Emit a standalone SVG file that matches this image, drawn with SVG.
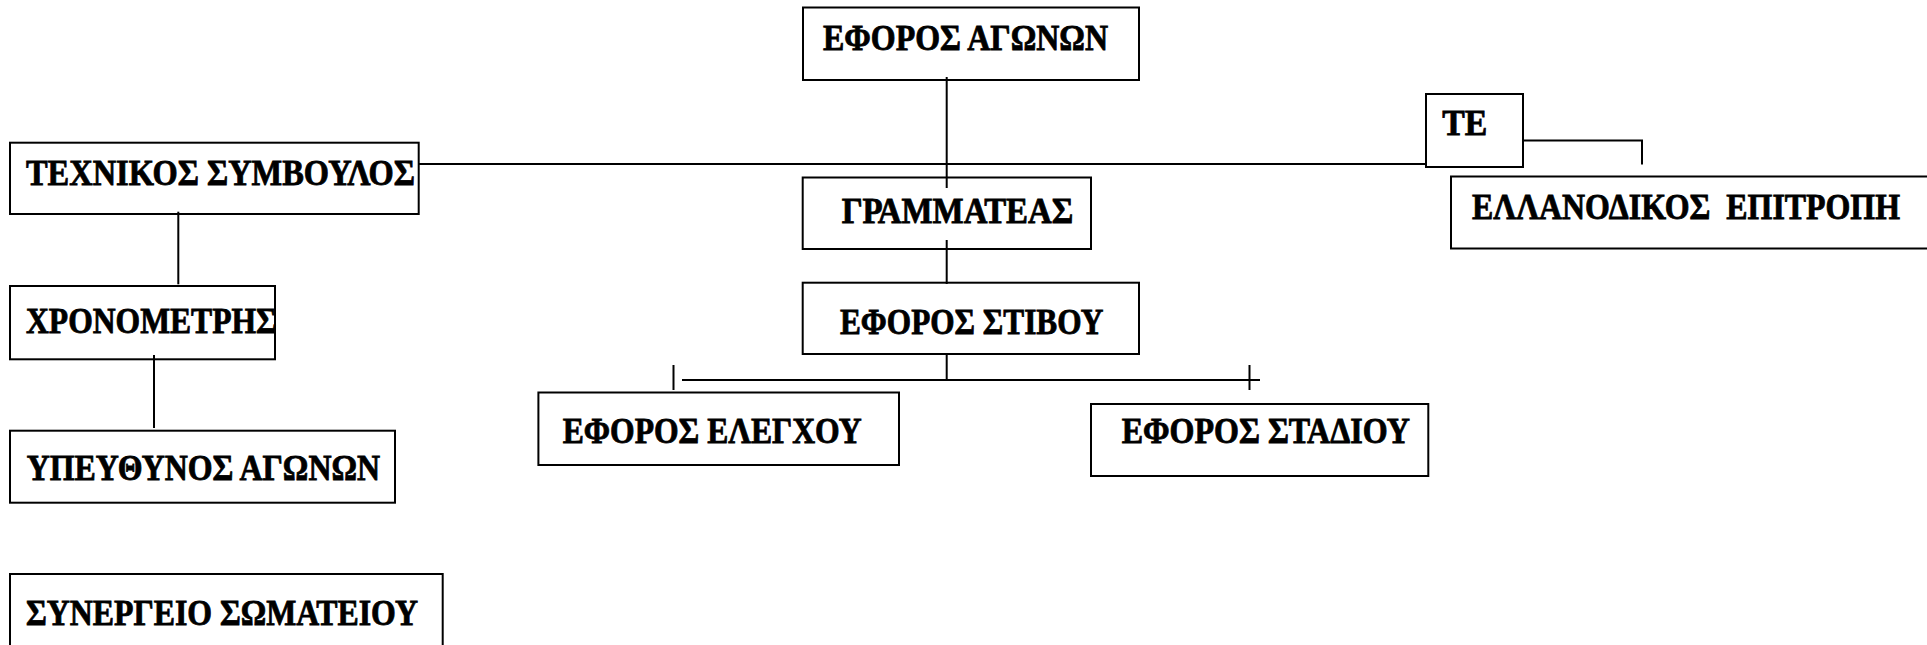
<svg xmlns="http://www.w3.org/2000/svg" width="1927" height="645" viewBox="0 0 1927 645">
<style>
.box{fill:#fff;stroke:#000;stroke-width:2}
.lbl{font-family:"Liberation Serif","Times New Roman",serif;font-weight:bold;font-size:35px;fill:#000;stroke:#000;stroke-width:0.8}
.ln{stroke:#000;stroke-width:2;fill:none}
</style>
<rect width="1927" height="645" fill="#fff"/>
<g id="n-eforos-agonon"><rect class="box" x="803" y="7.5" width="336" height="72.5"/><text class="lbl" x="823" y="50" textLength="285" lengthAdjust="spacingAndGlyphs">ΕΦΟΡΟΣ ΑΓΩΝΩΝ</text></g>
<g id="n-texnikos"><rect class="box" x="10" y="142.7" width="408.7" height="71.3"/><text class="lbl" x="26" y="185" textLength="389" lengthAdjust="spacingAndGlyphs">ΤΕΧΝΙΚΟΣ ΣΥΜΒΟΥΛΟΣ</text></g>
<g id="n-xronometris"><rect class="box" x="10" y="286" width="265" height="73.3"/><text class="lbl" x="26" y="333" textLength="250.7" lengthAdjust="spacingAndGlyphs">ΧΡΟΝΟΜΕΤΡΗΣ</text></g>
<g id="n-ypeythynos"><rect class="box" x="10" y="430.7" width="385" height="72"/><text class="lbl" x="26.7" y="480" textLength="353.3" lengthAdjust="spacingAndGlyphs">ΥΠΕΥΘΥΝΟΣ ΑΓΩΝΩΝ</text></g>
<g id="n-synergeio"><rect class="box" x="10" y="574" width="432.7" height="74"/><text class="lbl" x="26" y="625" textLength="392" lengthAdjust="spacingAndGlyphs">ΣΥΝΕΡΓΕΙΟ ΣΩΜΑΤΕΙΟΥ</text></g>
<g id="n-grammateas"><rect class="box" x="802.7" y="177.5" width="288.3" height="71.5"/><text class="lbl" x="841.7" y="223" textLength="231.6" lengthAdjust="spacingAndGlyphs">ΓΡΑΜΜΑΤΕΑΣ</text></g>
<g id="n-eforos-stivou"><rect class="box" x="802.7" y="282.7" width="336.3" height="71.3"/><text class="lbl" x="840" y="334" textLength="263.3" lengthAdjust="spacingAndGlyphs">ΕΦΟΡΟΣ ΣΤΙΒΟΥ</text></g>
<g id="n-eforos-elegxou"><rect class="box" x="538.4" y="392.5" width="360.6" height="72.5"/><text class="lbl" x="562.7" y="443" textLength="299" lengthAdjust="spacingAndGlyphs">ΕΦΟΡΟΣ ΕΛΕΓΧΟΥ</text></g>
<g id="n-eforos-stadiou"><rect class="box" x="1091" y="404" width="337.3" height="72"/><text class="lbl" x="1121.7" y="443.3" textLength="288.3" lengthAdjust="spacingAndGlyphs">ΕΦΟΡΟΣ ΣΤΑΔΙΟΥ</text></g>
<g id="n-te"><rect class="box" x="1426" y="94" width="97" height="73"/><text class="lbl" x="1442.3" y="135" textLength="45" lengthAdjust="spacingAndGlyphs">ΤΕ</text></g>
<g id="n-ellanodikos"><rect class="box" x="1451" y="176.5" width="477" height="72"/><text class="lbl" x="1472" y="218.5" textLength="428" lengthAdjust="spacingAndGlyphs" xml:space="preserve">ΕΛΛΑΝΟΔΙΚΟΣ  ΕΠΙΤΡΟΠΗ</text></g>
<g id="connectors">
<line class="ln" x1="418.7" y1="164" x2="1426" y2="164"/>
<line class="ln" x1="946.7" y1="77" x2="946.7" y2="188"/>
<line class="ln" x1="946.7" y1="240" x2="946.7" y2="284"/>
<line class="ln" x1="946.7" y1="354" x2="946.7" y2="380"/>
<line class="ln" x1="682" y1="380" x2="1260" y2="380"/>
<line class="ln" x1="673.5" y1="365" x2="673.5" y2="390"/>
<line class="ln" x1="1249.5" y1="365" x2="1249.5" y2="390"/>
<polyline class="ln" points="1523,140.5 1642,140.5 1642,164.5"/>
<line class="ln" x1="178.3" y1="211.7" x2="178.3" y2="284.3"/>
<line class="ln" x1="154" y1="355" x2="154" y2="428"/>
</g>
</svg>
